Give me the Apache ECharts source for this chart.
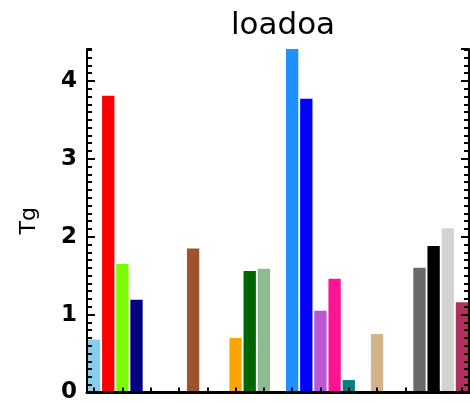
<!DOCTYPE html>
<html>
<head>
<meta charset="utf-8">
<script src="https://cdn.jsdelivr.net/npm/echarts@6/dist/echarts.min.js"></script>
<style>
  html, body { margin: 0; padding: 0; background: #ffffff; }
  #chart { width: 470px; height: 404px; }
</style>
</head>
<body>
<div id="chart"></div>
<script>
// Source slots along the x axis (not labelled on the chart)
const slots = ['1','2','3','4','5','6','7','8','9','10','11','12','13','14',
               '15','16','17','18','19','20','21','22','23','24','25','26','27'];

// Organic aerosol load per source, Tg (null = no bar)
const loadTg = [0.68, 3.81, 1.65, 1.19, null, null, null, 1.85, null, null,
                0.70, 1.56, 1.59, null, 4.41, 3.77, 1.05, 1.46, 0.16, null,
                0.75, null, null, 1.60, 1.88, 2.11, 1.16];

// Bar fill for each slot
const barColors = ['#87CEEB', '#FF0000', '#7CFC00', '#000080', null, null, null, '#A0522D', null, null,
                   '#FFA500', '#006400', '#8FBC8F', null, '#1E90FF', '#0000FF', '#BA55D3', '#FF1493', '#008080', null,
                   '#D2B48C', null, null, '#696969', '#000000', '#D3D3D3', '#B03060'];

// Y ticks shown as labels
const yTicks = [0, 1, 2, 3, 4];

const yMax = Math.max(...loadTg.filter(v => v !== null));
const font = 'DejaVu Sans';

const chart = echarts.init(document.getElementById('chart'), null, { renderer: 'canvas' });

// Shared value scale for the left/right frame axes
function valueAxis(extra) {
  return Object.assign({
    type: 'value',
    min: 0,
    max: yMax,
    splitLine: { show: false },
    axisLabel: { show: false },
    z: 5
  }, extra);
}

// Major ticks every 1 Tg, minor ticks every 0.1 Tg, on both frame sides
const majorTick = { show: true, inside: true, length: 8, lineStyle: { color: '#000', width: 2 } };
const minorTickStyle = { show: true, inside: true, length: 5, lineStyle: { color: '#000', width: 2 } };

chart.setOption({
  backgroundColor: '#ffffff',
  animation: false,
  title: {
    text: 'loadoa',
    left: 278,
    textAlign: 'center',
    top: 5,
    textStyle: { fontFamily: font, fontSize: 31, fontWeight: 'normal', color: '#000' }
  },
  grid: { left: 87, right: 1, top: 49, bottom: 8, containLabel: false },
  xAxis: [
    {
      type: 'category',
      data: slots,
      position: 'bottom',
      axisLine: { show: true, lineStyle: { color: '#000', width: 3 } },
      axisTick: { show: true, inside: true, alignWithLabel: true, length: 5, lineStyle: { color: '#000', width: 2 } },
      axisLabel: { show: false },
      splitLine: { show: false },
      z: 5
    },
    {
      type: 'category',
      data: slots,
      position: 'top',
      axisLine: { show: true, lineStyle: { color: '#000', width: 2 } },
      axisTick: { show: false },
      axisLabel: { show: false },
      splitLine: { show: false },
      z: 5
    }
  ],
  yAxis: [
    valueAxis({
      position: 'left',
      interval: 1,
      axisLine: { show: true, lineStyle: { color: '#000', width: 2 } },
      axisTick: majorTick,
      name: 'Tg',
      nameLocation: 'middle',
      nameGap: 47,
      nameRotate: 90,
      nameTextStyle: { fontFamily: font, fontSize: 22, color: '#000' },
      axisLabel: {
        show: true,
        margin: 10,
        showMaxLabel: false,
        fontFamily: font,
        fontSize: 23,
        fontWeight: 'bold',
        color: '#000',
        formatter: v => (yTicks.includes(v) ? String(v) : '')
      }
    }),
    valueAxis({
      position: 'right',
      interval: 1,
      axisLine: { show: true, lineStyle: { color: '#000', width: 2 } },
      axisTick: majorTick
    }),
    valueAxis({
      position: 'left',
      offset: 0,
      interval: 0.1,
      axisLine: { show: false },
      axisTick: minorTickStyle
    }),
    valueAxis({
      position: 'right',
      offset: 0,
      interval: 0.1,
      axisLine: { show: false },
      axisTick: minorTickStyle
    })
  ],
  series: [{
    type: 'bar',
    xAxisIndex: 0,
    yAxisIndex: 0,
    data: loadTg,
    barWidth: '87%',
    clip: true,
    itemStyle: { color: p => barColors[p.dataIndex] || '#000' },
    z: 2
  }]
});
</script>
</body>
</html>
